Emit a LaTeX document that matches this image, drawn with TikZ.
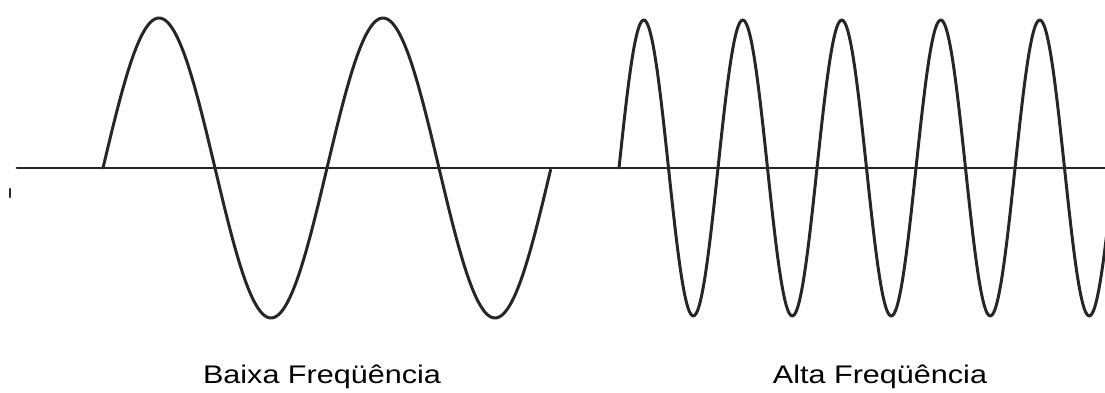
\documentclass[tikz,border=0pt]{standalone}
\usepackage{fontspec}
\setmainfont{Liberation Sans}
\begin{document}
\begin{tikzpicture}[x=0.02cm, y=-0.02cm, line join=round, line cap=round,
  wave/.style={line width=1.7pt, black!85},
  label/.style={font=\fontsize{14.5}{17}\selectfont, xscale=1.2, anchor=base, inner sep=0pt}]
\useasboundingbox (0,0) rectangle (1105,392);
\clip (0,0) rectangle (1105,392);
\draw[wave] (17,168) -- (1110,168);
\draw[line width=1.2pt, black!85] (10,189) -- (10,197);
% baixa
\draw[wave] plot[domain=0:2, samples=200, smooth] ({103+224*\x},{168-150*sin(360*\x)});
% alta
\draw[wave] plot[domain=0:4.95, samples=300, smooth] ({619+99*\x},{168-148*sin(360*\x)});
\path
(322,383) node[label] (baixa) {Baixa Freqüência}
(880,383) node[label] (alta) {Alta Freqüência};
\end{tikzpicture}
\end{document}
